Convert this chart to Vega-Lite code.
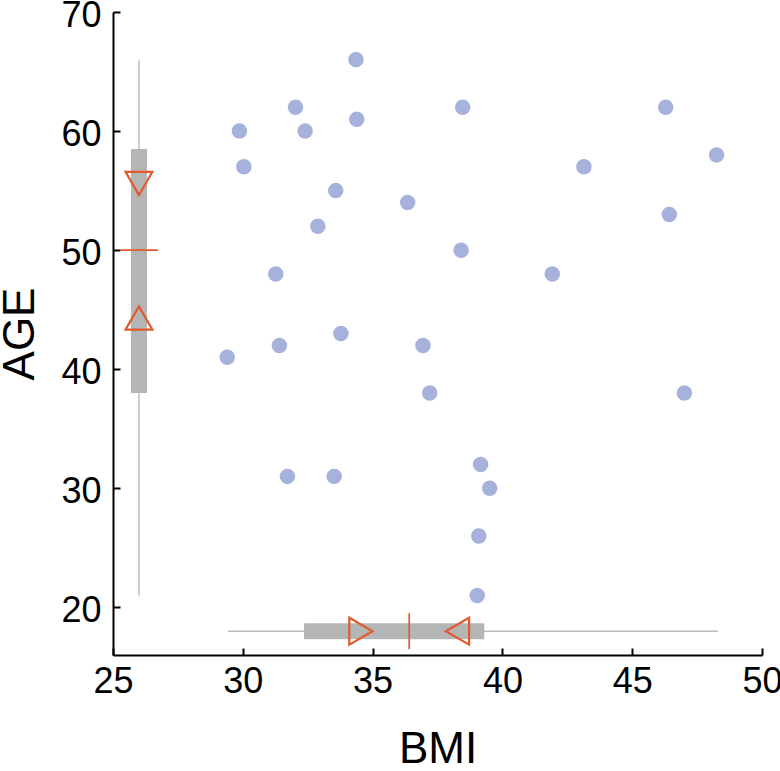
{
  "$schema": "https://vega.github.io/schema/vega-lite/v6.json",
  "width": 649,
  "height": 643,
  "autosize": "none",
  "padding": {"left": 113, "top": 12, "right": 18, "bottom": 116},
  "background": "white",
  "datasets": {
    "pts": [
      {"BMI": 34.36, "AGE": 66}, {"BMI": 32.03, "AGE": 62}, {"BMI": 38.47, "AGE": 62}, {"BMI": 46.29, "AGE": 62},
      {"BMI": 29.87, "AGE": 60}, {"BMI": 32.4, "AGE": 60}, {"BMI": 34.39, "AGE": 61}, {"BMI": 30.04, "AGE": 57},
      {"BMI": 43.14, "AGE": 57}, {"BMI": 48.25, "AGE": 58}, {"BMI": 33.58, "AGE": 55}, {"BMI": 36.35, "AGE": 54},
      {"BMI": 46.43, "AGE": 53}, {"BMI": 32.89, "AGE": 52}, {"BMI": 38.41, "AGE": 50}, {"BMI": 31.27, "AGE": 48},
      {"BMI": 41.92, "AGE": 48}, {"BMI": 29.4, "AGE": 41}, {"BMI": 31.41, "AGE": 42}, {"BMI": 33.78, "AGE": 43},
      {"BMI": 36.94, "AGE": 42}, {"BMI": 37.2, "AGE": 38}, {"BMI": 47.01, "AGE": 38}, {"BMI": 31.72, "AGE": 31},
      {"BMI": 33.52, "AGE": 31}, {"BMI": 39.16, "AGE": 32}, {"BMI": 39.51, "AGE": 30}, {"BMI": 39.09, "AGE": 26},
      {"BMI": 39.03, "AGE": 21}
    ],
    "ageBox": [{"bmi": 26, "min": 21, "q1": 38, "median": 50, "q3": 58.5, "max": 66}],
    "bmiBox": [{"age": 18, "min": 29.43, "q1": 32.36, "median": 36.41, "q3": 39.3, "max": 48.3}],
    "notches": [
      {"bmi": 26, "age": 55.6, "dir": "down"},
      {"bmi": 26, "age": 44.3, "dir": "up"},
      {"bmi": 34.55, "age": 18, "dir": "right"},
      {"bmi": 38.27, "age": 18, "dir": "left"}
    ]
  },
  "layer": [
    {
      "data": {"name": "pts"},
      "mark": {"type": "circle", "size": 240, "color": "#a7b2dc", "opacity": 1},
      "encoding": {
        "x": {"field": "BMI", "type": "quantitative", "title": "BMI", "scale": {"domain": [25, 50], "nice": false, "zero": false}, "axis": {"values": [25, 30, 35, 40, 45, 50]}},
        "y": {"field": "AGE", "type": "quantitative", "title": "AGE", "scale": {"domain": [16, 70], "nice": false, "zero": false}, "axis": {"values": [20, 30, 40, 50, 60, 70]}}
      }
    },
    {
      "data": {"name": "ageBox"},
      "mark": {"type": "rule", "color": "#bcbcbc", "strokeWidth": 1.5},
      "encoding": {
        "x": {"field": "bmi", "type": "quantitative", "title": "BMI"},
        "y": {"field": "min", "type": "quantitative", "title": "AGE"},
        "y2": {"field": "max"}
      }
    },
    {
      "data": {"name": "ageBox"},
      "mark": {"type": "rule", "color": "#b4b6b6", "strokeWidth": 16, "strokeCap": "butt"},
      "encoding": {
        "x": {"field": "bmi", "type": "quantitative", "title": "BMI"},
        "y": {"field": "q1", "type": "quantitative", "title": "AGE"},
        "y2": {"field": "q3"}
      }
    },
    {
      "data": {"name": "ageBox"},
      "mark": {"type": "tick", "color": "#e25a2e", "orient": "horizontal", "size": 38, "thickness": 1.7, "opacity": 1},
      "encoding": {
        "x": {"field": "bmi", "type": "quantitative", "title": "BMI"},
        "y": {"field": "median", "type": "quantitative", "title": "AGE"}
      }
    },
    {
      "data": {"name": "bmiBox"},
      "mark": {"type": "rule", "color": "#bcbcbc", "strokeWidth": 1.5},
      "encoding": {
        "y": {"field": "age", "type": "quantitative", "title": "AGE"},
        "x": {"field": "min", "type": "quantitative", "title": "BMI"},
        "x2": {"field": "max"}
      }
    },
    {
      "data": {"name": "bmiBox"},
      "mark": {"type": "rule", "color": "#b4b6b6", "strokeWidth": 16, "strokeCap": "butt"},
      "encoding": {
        "y": {"field": "age", "type": "quantitative", "title": "AGE"},
        "x": {"field": "q1", "type": "quantitative", "title": "BMI"},
        "x2": {"field": "q3"}
      }
    },
    {
      "data": {"name": "bmiBox"},
      "mark": {"type": "tick", "color": "#e25a2e", "orient": "vertical", "size": 36, "thickness": 1.7, "opacity": 1},
      "encoding": {
        "y": {"field": "age", "type": "quantitative", "title": "AGE"},
        "x": {"field": "median", "type": "quantitative", "title": "BMI"}
      }
    },
    {
      "data": {"name": "notches"},
      "mark": {"type": "point", "filled": false, "size": 720, "strokeWidth": 2.2, "color": "#e25a2e", "opacity": 1},
      "encoding": {
        "x": {"field": "bmi", "type": "quantitative", "title": "BMI"},
        "y": {"field": "age", "type": "quantitative", "title": "AGE"},
        "shape": {"field": "dir", "type": "nominal", "legend": null,
          "scale": {"domain": ["up", "down", "left", "right"], "range": ["triangle-up", "triangle-down", "triangle-left", "triangle-right"]}}
      }
    }
  ],
  "config": {
    "view": {"stroke": null},
    "axis": {
      "grid": false,
      "labelFlush": false,
      "domainColor": "black",
      "domainWidth": 2,
      "tickColor": "black",
      "tickWidth": 2,
      "tickSize": -7,
      "labelFont": "Liberation Sans",
      "labelFontSize": 36,
      "labelColor": "black",
      "titleFont": "Liberation Sans",
      "titleFontSize": 44,
      "titleFontWeight": "normal",
      "titleColor": "black"
    },
    "axisX": {"labelPadding": 16, "titlePadding": 28},
    "axisY": {"labelPadding": 19, "titlePadding": 18, "labelOffset": 3}
  }
}
